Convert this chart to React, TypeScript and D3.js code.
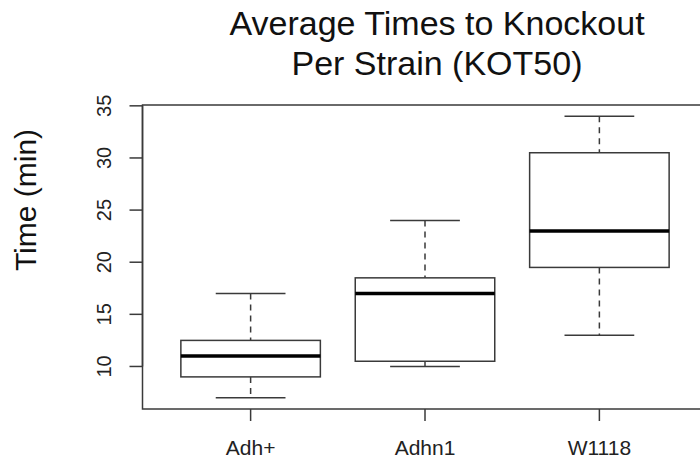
import * as d3 from "d3";

const strains = ["Adh+", "Adhn1", "W1118"];
const whiskerLow = [7, 10, 13];
const q1 = [9, 10.5, 19.5];
const medians = [11, 17, 23];
const q3 = [12.5, 18.5, 30.5];
const whiskerHigh = [17, 24, 34];
const yTicks = [10, 15, 20, 25, 30, 35];

const width = 700;
const height = 462;
const plot = { left: 142.5, right: 707.5, top: 105, bottom: 409 };
const font = "Liberation Sans, Arial, Helvetica, sans-serif";
const ink = "#3a3a3a";

export default function App() {
  // R-style extended ranges (4% past the data)
  const x = d3.scaleLinear().domain([0.38, 3.62]).range([plot.left, plot.right]);
  const y = d3.scaleLinear().domain([5.92, 35.08]).range([plot.bottom, plot.top]);

  const boxHalf = x(1.4) - x(1);
  const stapleHalf = x(1.2) - x(1);

  return (
    <svg
      width={width}
      height={height}
      style={{ position: "absolute", left: 0, top: 0, background: "#fff" }}
      fontFamily={font}
    >
      {/* title */}
      <text x={437} y={34.5} textAnchor="middle" fontSize={34} fill="#111">
        Average Times to Knockout
      </text>
      <text x={437} y={75} textAnchor="middle" fontSize={34} fill="#111">
        Per Strain (KOT50)
      </text>

      {/* y axis label */}
      <text
        transform={`translate(36,200) rotate(-90)`}
        textAnchor="middle"
        fontSize={30}
        fill="#111"
      >
        Time (min)
      </text>

      {/* boxes */}
      {strains.map((s, i) => {
        const cx = x(i + 1);
        return (
          <g key={s}>
            <line
              x1={cx} x2={cx} y1={y(whiskerHigh[i])} y2={y(q3[i])}
              stroke={ink} strokeWidth={1.5} strokeDasharray="6,5"
            />
            <line
              x1={cx} x2={cx} y1={y(q1[i])} y2={y(whiskerLow[i])}
              stroke={ink} strokeWidth={1.5} strokeDasharray="6,5"
            />
            <line
              x1={cx - stapleHalf} x2={cx + stapleHalf}
              y1={y(whiskerHigh[i])} y2={y(whiskerHigh[i])}
              stroke={ink} strokeWidth={1.5}
            />
            <line
              x1={cx - stapleHalf} x2={cx + stapleHalf}
              y1={y(whiskerLow[i])} y2={y(whiskerLow[i])}
              stroke={ink} strokeWidth={1.5}
            />
            <rect
              x={cx - boxHalf} width={boxHalf * 2}
              y={y(q3[i])} height={y(q1[i]) - y(q3[i])}
              fill="#fff" stroke={ink} strokeWidth={1.5}
            />
            <line
              x1={cx - boxHalf} x2={cx + boxHalf}
              y1={y(medians[i])} y2={y(medians[i])}
              stroke="#000" strokeWidth={3.5}
            />
          </g>
        );
      })}

      {/* frame */}
      <rect
        x={plot.left} y={plot.top}
        width={plot.right - plot.left} height={plot.bottom - plot.top}
        fill="none" stroke={ink} strokeWidth={1.5}
      />

      {/* y axis */}
      <line x1={plot.left} x2={plot.left} y1={y(10)} y2={y(35)} stroke={ink} strokeWidth={1.5} />
      {yTicks.map((t) => (
        <g key={t}>
          <line x1={plot.left - 13} x2={plot.left} y1={y(t)} y2={y(t)} stroke={ink} strokeWidth={1.5} />
          <text
            transform={`translate(111,${y(t)}) rotate(-90)`}
            textAnchor="middle"
            fontSize={20}
            fill="#222"
          >
            {t}
          </text>
        </g>
      ))}

      {/* x axis */}
      {strains.map((s, i) => (
        <g key={s}>
          <line x1={x(i + 1)} x2={x(i + 1)} y1={plot.bottom} y2={plot.bottom + 12} stroke={ink} strokeWidth={1.5} />
          <text x={x(i + 1)} y={455} textAnchor="middle" fontSize={21} fill="#222">
            {s}
          </text>
        </g>
      ))}
    </svg>
  );
}
